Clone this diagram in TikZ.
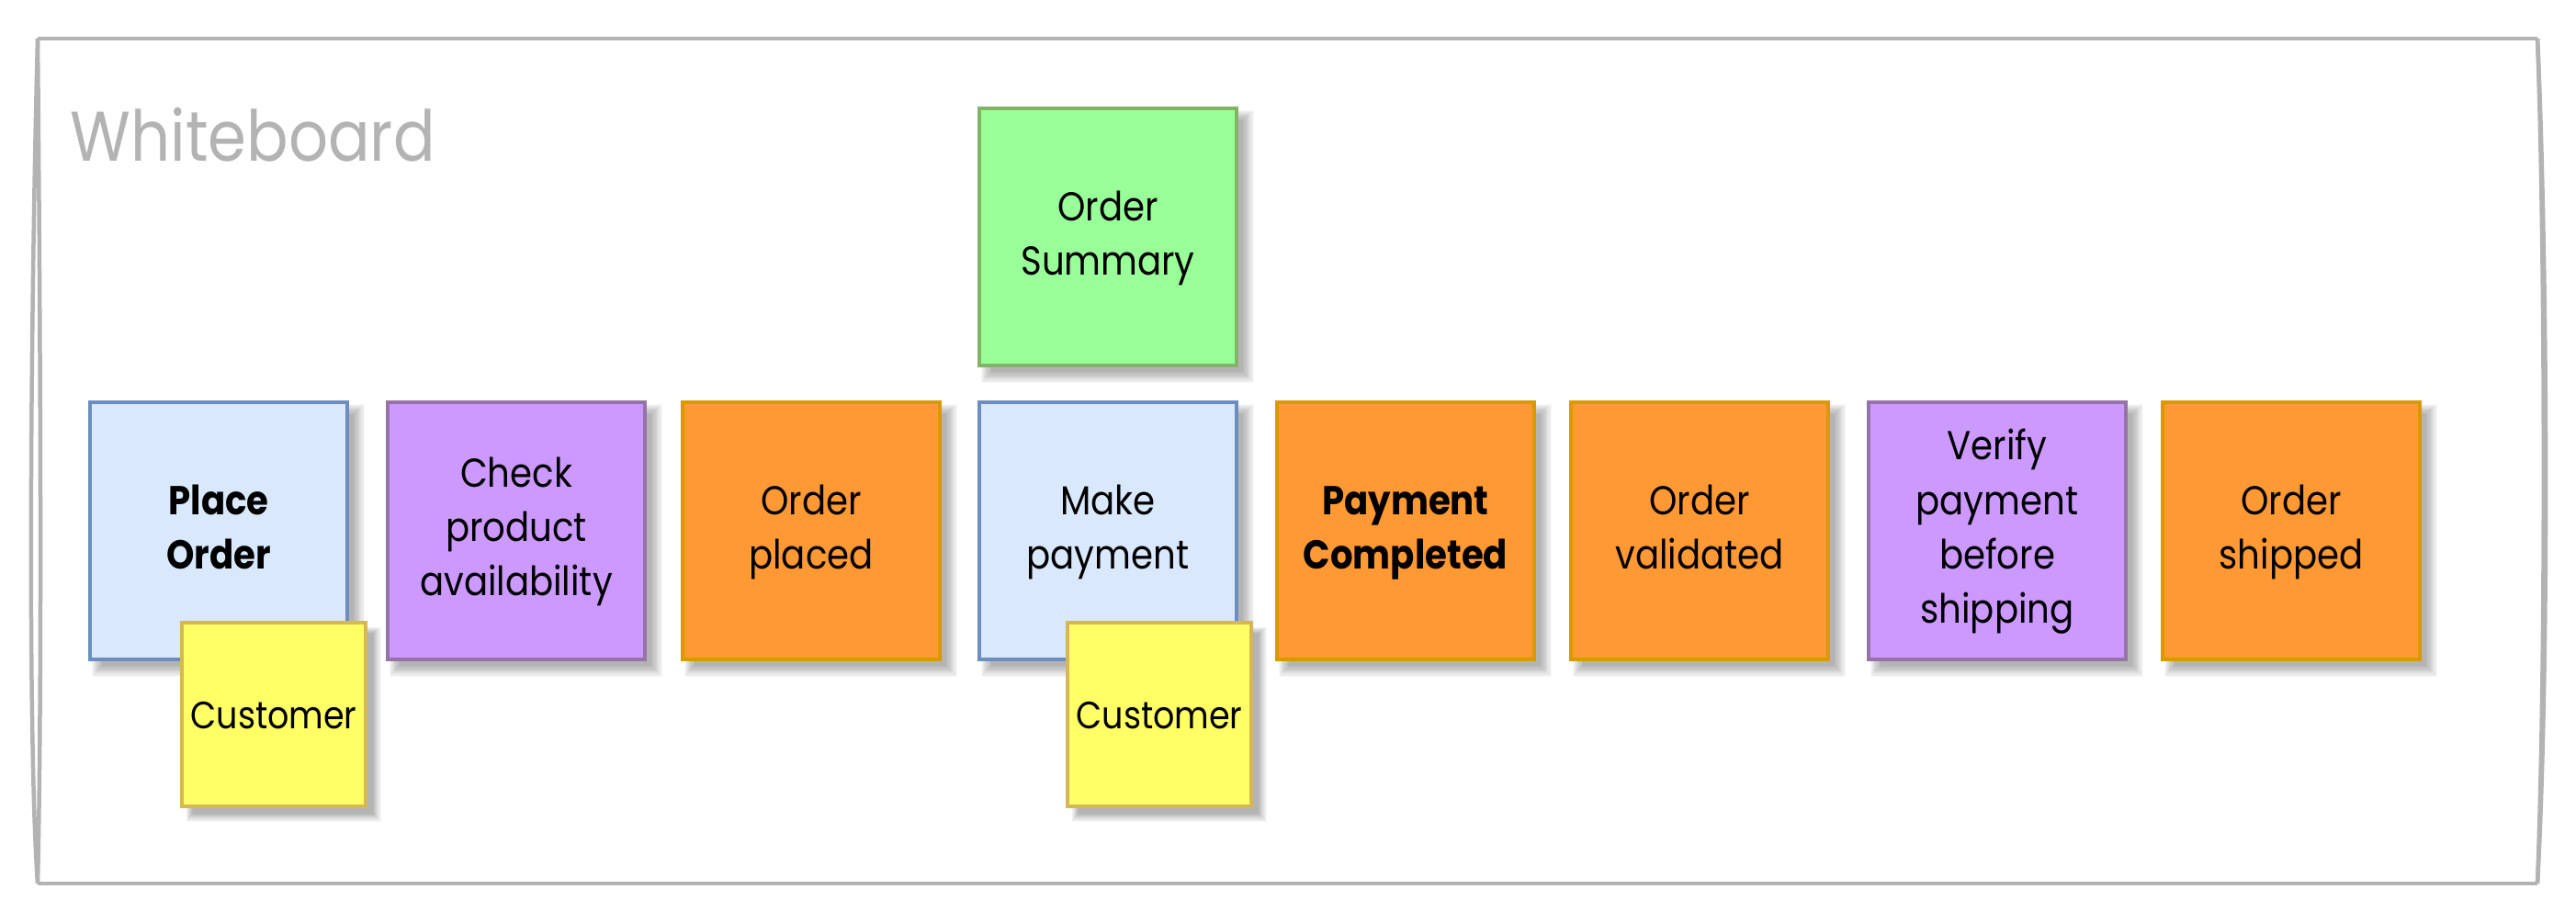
\documentclass[tikz,border=0pt]{standalone}
\usepackage{xcolor}
\usepackage{fontspec}
\setmainfont[FakeStretch=0.88]{Poppins}
\usetikzlibrary{shadows,positioning}

\definecolor{commandfill}{HTML}{DAE8FC}
\definecolor{commandline}{HTML}{6C8EBF}
\definecolor{policyfill}{HTML}{CC99FF}
\definecolor{policyline}{HTML}{9673A6}
\definecolor{eventfill}{HTML}{FF9933}
\definecolor{eventline}{HTML}{D79B00}
\definecolor{viewfill}{HTML}{99FF99}
\definecolor{viewline}{HTML}{82B366}
\definecolor{actorfill}{HTML}{FFFF66}
\definecolor{actorline}{HTML}{D6B656}
\definecolor{boardgray}{HTML}{B3B3B3}

\tikzset{
    softlayer/.style={general shadow={shadow xshift=0.1cm,shadow yshift=-0.1cm,shadow scale=#1,fill=black,opacity=0.03}},
    softshadow/.style={softlayer=1.06,softlayer=1.052,softlayer=1.044,softlayer=1.036,softlayer=1.028,softlayer=1.02,
        softlayer=1.012,softlayer=1.004,softlayer=0.996,softlayer=0.988,softlayer=0.98},
    postit/.style={softshadow,draw,line width=0.04cm,align=center,text=black,inner sep=0pt,
        execute at end node=\strut},
    sticky/.style={postit,minimum width=2.8cm,minimum height=2.8cm,text width=2.7cm,
        font=\fontsize{12.5}{16.8}\selectfont,execute at begin node={\rule{0pt}{11.6pt}}},
    command/.style={sticky,fill=commandfill,draw=commandline},
    policy/.style={sticky,fill=policyfill,draw=policyline},
    event/.style={sticky,fill=eventfill,draw=eventline},
    readview/.style={sticky,fill=viewfill,draw=viewline},
    actor/.style={postit,fill=actorfill,draw=actorline,minimum width=2cm,minimum height=2cm,text width=1.95cm,
        font=\fontsize{11.8}{14}\selectfont,execute at begin node={\rule{0pt}{13.2pt}}},
    boardline/.style={draw=boardgray,line width=0.045cm,line join=round}
}

\begin{document}
\begin{tikzpicture}
    \useasboundingbox (0,0) rectangle (28.04,10.04);

    % Board outline
    \draw[boardline] (0.41,9.62) -- (27.62,9.62);
    \draw[boardline] (0.41,0.42) -- (27.62,0.42);
    \draw[boardline] (0.41,9.62) .. controls (0.33,6.5) and (0.30,2) .. (0.41,0.42);
    \draw[boardline] (0.41,9.62) .. controls (0.44,6.5) and (0.46,2.5) .. (0.41,0.42);
    \draw[boardline] (27.62,9.62) .. controls (27.72,7.5) and (27.76,3) .. (27.62,0.42);
    \draw[boardline] (27.62,9.62) .. controls (27.70,7.5) and (27.72,3) .. (27.62,0.42);

    \node[anchor=west,text=boardgray,font=\fontsize{21.8}{24}\selectfont,inner sep=0pt] (title) at (0.76,8.57) {Whiteboard};

    % Sticky notes
    \node[command] (placeorder) at (2.38,4.26) {\textbf{Place}\\\textbf{Order}};
    \node[policy,right=0.40cm of placeorder] (checkproduct) {Check\\product\\availability};
    \node[event,right=0.37cm of checkproduct] (orderplaced) {Order\\placed};
    \node[command,right=0.39cm of orderplaced] (makepayment) {Make\\payment};
    \node[event,right=0.40cm of makepayment] (paymentdone) {\textbf{Payment}\\\textbf{Completed}};
    \node[event,right=0.36cm of paymentdone] (ordervalid) {Order\\validated};
    \node[policy,right=0.40cm of ordervalid] (verifypayment) {Verify\\payment\\before\\shipping};
    \node[event,right=0.36cm of verifypayment] (ordershipped) {Order\\shipped};

    \node[readview,above=0.36cm of makepayment] (ordersummary) {Order\\Summary};

    % Actors
    \node[actor] (customerone) at (2.98,2.26) {Customer};
    \node[actor] (customertwo) at (12.62,2.26) {Customer};
\end{tikzpicture}
\end{document}
